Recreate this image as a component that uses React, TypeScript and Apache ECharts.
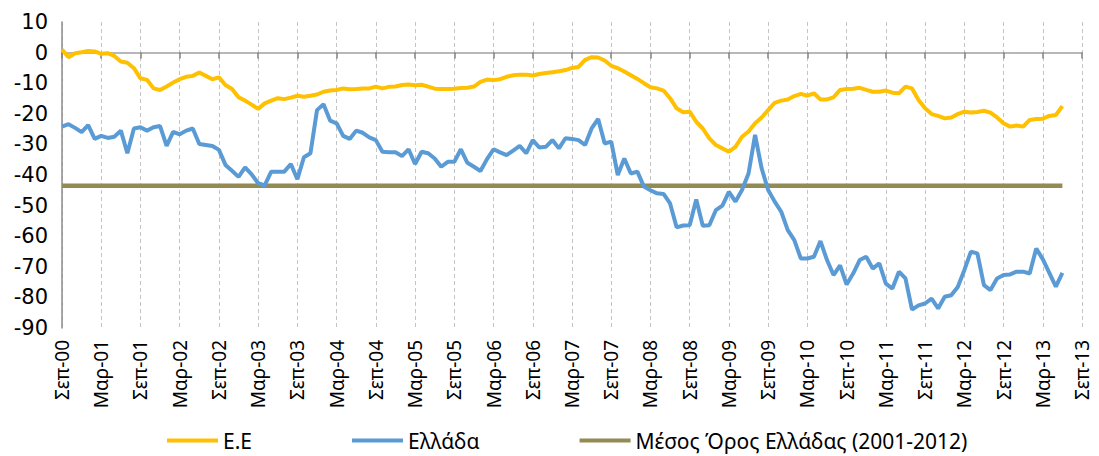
import React, { useEffect, useRef } from "react";
import * as echarts from "echarts";

const MONTH_NAMES = ["Ιαν", "Φεβ", "Μαρ", "Απρ", "Μαϊ", "Ιουν", "Ιουλ", "Αυγ", "Σεπ", "Οκτ", "Νοε", "Δεκ"];
const START_MONTH = 8; // Σεπ
const START_YEAR = 2000;
const AXIS_MONTHS = 157; // Σεπ-00 .. Σεπ-13

const categories: string[] = Array.from({ length: AXIS_MONTHS }, (_, i) => {
  const m = START_MONTH + i;
  const y = START_YEAR + Math.floor(m / 12);
  return `${MONTH_NAMES[m % 12]}-${String(y % 100).padStart(2, "0")}`;
});

const SERIES_NAMES = ["Ε.Ε", "Ελλάδα", "Μέσος Όρος Ελλάδας (2001-2012)"];

// Ε.Ε (monthly, Σεπ-00 .. Ιουν-13)
const euValues: number[] = [
  1, -1.5, -0.2, 0.1, 0.5, 0.4, -0.4, -0.2, -1.1, -2.9, -3.3, -5.1, -8.4, -8.9, -11.7, -12.2, -11.1, -9.8, -8.7, -7.9, -7.6, -6.5,
  -7.6, -8.7, -8.1, -10.6, -11.9, -14.6, -15.7, -17, -18.4, -16.6, -15.7, -14.9, -15.2, -14.7, -14.1, -14.4, -14.1, -13.7, -12.8, -12.4, -12.2, -11.7,
  -12, -11.9, -11.7, -11.7, -11.1, -11.7, -11.2, -11.1, -10.6, -10.4, -10.7, -10.5, -11.1, -11.8, -11.9, -11.9, -11.8, -11.6, -11.5, -11.1, -9.6, -8.8, -9,
  -8.7, -7.9, -7.4, -7.2, -7.2, -7.5, -7, -6.7, -6.4, -6.1, -5.7, -5, -4.7, -2.4, -1.5, -1.6, -2.6, -4.3, -5.1, -6.2, -7.4, -8.6,
  -10, -11.3, -11.7, -12.4, -14.9, -18.2, -19.5, -19.3, -22.6, -24.8, -28, -30.2, -31.3, -32.4, -30.8, -27.5, -25.8, -23.1, -21.2, -18.8, -16.4, -15.7,
  -15.3, -14.2, -13.5, -14.1, -13.3, -15.3, -15.3, -14.6, -12.2, -11.9, -11.8, -11.5, -12.2, -12.8, -12.8, -12.4, -13.1, -13.3, -11.1, -11.7, -15.5, -18.2,
  -20.1, -20.7, -21.5, -21.2, -20.1, -19.3, -19.6, -19.4, -19, -19.6, -21.2, -23.1, -24.2, -23.8, -24.2, -22, -21.7, -21.6, -20.7, -20.4, -17.5,
];

// Ελλάδα (monthly, Σεπ-00 .. Ιουν-13)
const greeceValues: number[] = [
  -24.2, -23.4, -24.6, -26, -23.7, -28.2, -27.2, -27.9, -27.5, -25.5, -32.9, -24.8, -24.4, -25.5, -24.4, -24, -30.5, -25.9, -26.7, -25.5, -24.8, -29.9,
  -30.2, -30.5, -31.8, -36.7, -38.6, -40.6, -37.5, -39.8, -42.7, -43.4, -38.9, -38.9, -38.9, -36.4, -41.4, -34.2, -32.9, -18.8, -16.9, -22.2, -23.1, -27.2,
  -28.2, -25.5, -26.2, -27.7, -28.6, -32.4, -32.6, -32.6, -33.8, -31.6, -36.4, -32.4, -32.9, -34.6, -37.3, -35.7, -35.7, -31.6, -36, -37.3, -38.7, -34.8, -31.6,
  -32.6, -33.5, -32, -30.5, -32.9, -28.6, -31, -30.8, -28.6, -31.3, -28, -28.2, -28.6, -30.2, -24.8, -21.7, -29.7, -29.1, -40, -34.6, -39.5, -38.9,
  -43.8, -45, -46, -46.2, -49.3, -57.1, -56.5, -56.4, -48, -56.6, -56.4, -51.5, -50, -45.5, -48.7, -44.9, -39.5, -26.9, -37.8, -44.9, -48.7, -52,
  -58, -61.3, -67.3, -67.3, -66.7, -61.6, -67.8, -72.7, -69.5, -75.8, -72.2, -67.8, -66.7, -70.6, -68.9, -75.5, -77.1, -71.6, -73.8, -84, -82.6, -82,
  -80.4, -83.6, -79.8, -79.3, -76.6, -71.1, -65.1, -65.6, -76, -77.6, -73.8, -72.7, -72.5, -71.6, -71.6, -72.2, -64, -67.5, -72, -76.5, -72,
];

const greeceAverage = -43.5;

const Y_MIN = -90;
const Y_MAX = 10;
const Y_STEP = 10;

const COLORS = ["#FFC000", "#5B9BD5", "#948A54"];
const FONT = "'Noto Sans', 'DejaVu Sans', sans-serif";
const FONT_WIDE = "'DejaVu Sans', 'Noto Sans', sans-serif";

export default function App() {
  const ref = useRef<HTMLDivElement>(null);

  useEffect(() => {
    if (!ref.current) return;
    const chart = echarts.init(ref.current, undefined, { renderer: "svg" });
    const lastIdx = euValues.length - 1;
    chart.setOption({
      animation: false,
      backgroundColor: "#ffffff",
      grid: { left: 62, right: 17, top: 22, bottom: 128, containLabel: false },
      legend: {
        data: SERIES_NAMES,
        left: 162,
        top: 425,
        icon: "rect",
        itemWidth: 51,
        itemHeight: 4,
        itemGap: 100,
        textStyle: { fontFamily: FONT, fontSize: 21, color: "#000" },
      },
      xAxis: [
        {
          type: "category",
          data: categories,
          boundaryGap: false,
          position: "bottom",
          axisLine: { show: false, onZero: false },
          axisTick: { show: false },
          axisLabel: {
            interval: 5,
            rotate: 90,
            margin: 12,
            fontFamily: FONT,
            fontSize: 19,
            color: "#000",
          },
          splitLine: {
            show: true,
            interval: 5,
            lineStyle: { color: "#c4c4c4", type: [4, 3], width: 1 },
          },
        },
        {
          type: "category",
          data: categories,
          boundaryGap: false,
          position: "bottom",
          axisLine: { show: true, onZero: true, lineStyle: { color: "#a0a0a0", width: 1.5 } },
          axisTick: { show: true, interval: 5, length: 6, lineStyle: { color: "#808080", width: 1.5 } },
          axisLabel: { show: false },
          splitLine: { show: false },
        },
      ],
      yAxis: {
        type: "value",
        min: Y_MIN,
        max: Y_MAX,
        interval: Y_STEP,
        axisLine: { show: true, lineStyle: { color: "#8c8c8c", width: 1.5 } },
        axisTick: { show: false },
        splitLine: { show: false },
        axisLabel: { fontFamily: FONT_WIDE, fontSize: 21, color: "#000", margin: 14 },
      },
      series: [
        {
          name: SERIES_NAMES[2],
          type: "line",
          data: [
            [categories[0], greeceAverage],
            [categories[lastIdx], greeceAverage],
          ],
          symbol: "none",
          lineStyle: { color: COLORS[2], width: 4.5 },
          itemStyle: { color: COLORS[2] },
          z: 2,
        },
        {
          name: SERIES_NAMES[0],
          type: "line",
          data: euValues,
          symbol: "none",
          lineStyle: { color: COLORS[0], width: 4 },
          itemStyle: { color: COLORS[0] },
          z: 3,
        },
        {
          name: SERIES_NAMES[1],
          type: "line",
          data: greeceValues,
          symbol: "none",
          lineStyle: { color: COLORS[1], width: 4 },
          itemStyle: { color: COLORS[1] },
          z: 4,
        },
      ],
    });
    return () => chart.dispose();
  }, []);

  return (
    <div
      ref={ref}
      style={{ position: "fixed", left: 0, top: 0, width: "1099px", height: "456px", background: "#fff" }}
    />
  );
}
